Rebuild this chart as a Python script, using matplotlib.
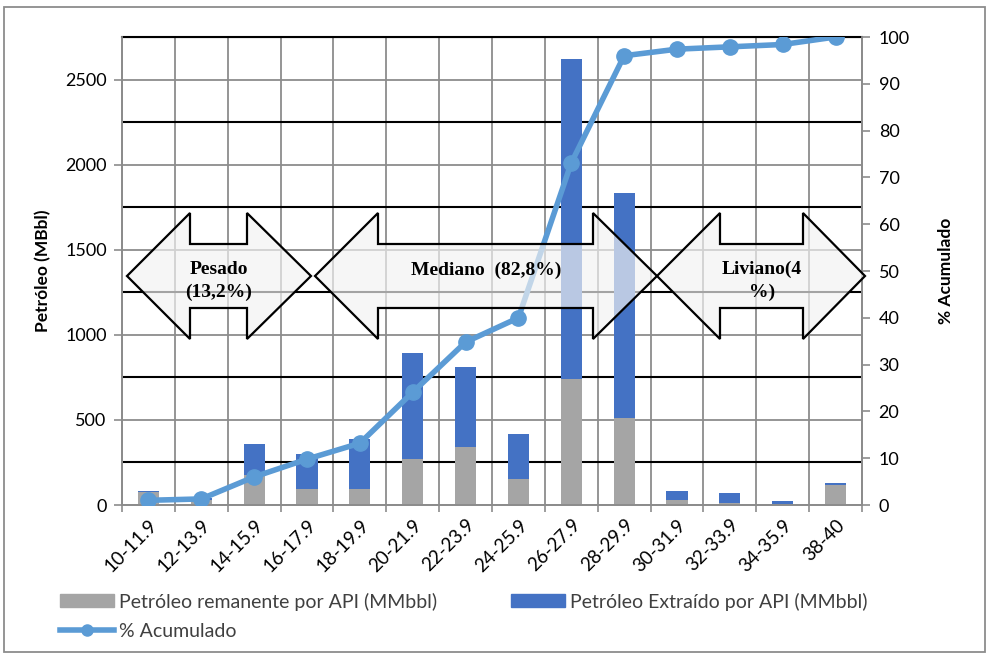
import matplotlib
matplotlib.use("Agg")
import matplotlib.pyplot as plt
import numpy as np
from matplotlib.patches import Polygon, Rectangle
from matplotlib.lines import Line2D

# rangos de gravedad API
rangos = ["10-11.9", "12-13.9", "14-15.9", "16-17.9", "18-19.9", "20-21.9",
          "22-23.9", "24-25.9", "26-27.9", "28-29.9", "30-31.9", "32-33.9",
          "34-35.9", "38-40"]
remanente = [75, 30, 175, 95, 95, 273, 338, 154, 740, 510, 28, 10, 5, 118]
extraido = [8, 10, 185, 205, 290, 622, 474, 261, 1880, 1325, 55, 62, 20, 10]
acumulado = [1.0, 1.3, 6.0, 9.8, 13.2, 24.1, 34.8, 40.0, 73.1, 96.0, 97.4,
             97.9, 98.4, 100.0]

GRIS = "#A5A5A5"
AZUL = "#4472C4"
LINEA = "#5B9BD5"
TXT = "#404040"
tick_font = "Lato"

W, H = 989, 658
fig = plt.figure(figsize=(W / 100, H / 100), dpi=100)


def fx(px):
    return px / W


def fy(py):
    return 1 - py / H


ax = fig.add_axes([fx(122), fy(505), fx(862) - fx(122), fy(37) - fy(505)])
ax2 = ax.twinx()

x = np.arange(len(rangos))
ax.bar(x, remanente, width=0.4, color=GRIS, zorder=2)
ax.bar(x, extraido, width=0.4, bottom=remanente, color=AZUL, zorder=2)

ax.set_xlim(-0.5, len(rangos) - 0.5)
ax.set_ylim(0, 2750)
ax.set_yticks(np.arange(0, 2501, 500))
ax.set_yticks(np.arange(250, 2751, 500), minor=True)
ax.grid(axis="y", which="major", color="#8C8C8C", lw=1.3, zorder=0)
ax.grid(axis="y", which="minor", color="black", lw=1.5, zorder=0)
ax.set_xticks(x)
ax.set_xticks(np.arange(-0.5, len(rangos)), minor=True)
ax.grid(axis="x", which="minor", color="#8C8C8C", lw=1.3, zorder=0)
ax.tick_params(axis="x", which="major", length=0, pad=8)
ax.tick_params(axis="x", which="minor", length=5, color="#8C8C8C", width=1.2)
ax.tick_params(axis="y", which="major", length=6, color="#8C8C8C", width=1.2,
               pad=5)
ax.tick_params(axis="y", which="minor", length=0)
ax.set_xticklabels(rangos, rotation=45, ha="right", rotation_mode="anchor",
                   fontsize=13.5, family=tick_font, color="black")
for lab in ax.get_yticklabels():
    lab.set_fontsize(13)
    lab.set_family(tick_font)
ax.set_ylabel("Petróleo (MBbl)", fontsize=12.5, fontweight="bold",
              family=tick_font, labelpad=10)

for side in ["left", "bottom", "right"]:
    ax.spines[side].set_color("#8C8C8C")
    ax.spines[side].set_linewidth(1.3)
ax.spines["top"].set_color("black")
ax.spines["top"].set_linewidth(1.5)

ax2.plot(x, acumulado, color=LINEA, lw=4, marker="o", ms=11, zorder=3)
ax2.set_ylim(0, 100)
ax2.set_yticks(np.arange(0, 101, 10))
ax2.tick_params(axis="y", length=6, color="#8C8C8C", width=1.2, pad=6)
for lab in ax2.get_yticklabels():
    lab.set_fontsize(13)
    lab.set_family(tick_font)
ax2.set_ylabel("% Acumulado", fontsize=12.5, fontweight="bold",
               family=tick_font, rotation=90, labelpad=20)
for side in ["left", "bottom", "right"]:
    ax2.spines[side].set_color("#8C8C8C")
    ax2.spines[side].set_linewidth(1.3)
ax2.spines["top"].set_visible(False)


# flechas de doble punta (en pixeles de la figura)
def flecha(x0, xb0, xb1, x1, yc, body_h, head_h):
    pts = [(x0, yc), (xb0, yc - head_h), (xb0, yc - body_h),
           (xb1, yc - body_h), (xb1, yc - head_h), (x1, yc),
           (xb1, yc + head_h), (xb1, yc + body_h), (xb0, yc + body_h),
           (xb0, yc + head_h)]
    pts = [(fx(a), fy(b)) for a, b in pts]
    p = Polygon(pts, closed=True, transform=fig.transFigure,
                facecolor="#F2F2F2", alpha=0.68, edgecolor="none",
                zorder=10)
    e = Polygon(pts, closed=True, transform=fig.transFigure,
                facecolor="none", edgecolor="black", lw=1.6, zorder=11)
    fig.patches.extend([p, e])


flecha(127, 190, 247, 311, 276, 32, 63)
flecha(315, 378, 593, 657, 276, 32, 63)
flecha(657, 720, 803, 865, 276, 32, 63)

serif = dict(family="Liberation Serif", fontweight="bold", fontsize=14,
             ha="center", va="center", color="black", zorder=12,
             linespacing=1.45)
fig.text(fx(219), fy(281), "Pesado\n(13,2%)", **serif)
fig.text(fx(486), fy(270), "Mediano  (82,8%)", **serif)
fig.text(fx(762), fy(281), "Liviano(4\n%)", **serif)

# leyenda
h_rem = Rectangle((0, 0), 1, 1, color=GRIS)
h_ext = Rectangle((0, 0), 1, 1, color=AZUL)
h_acu = Line2D([], [], color=LINEA, lw=4, marker="o", ms=8)
leg = fig.legend([h_rem, h_acu, h_ext],
                 ["Petróleo remanente por API (MMbbl)", "% Acumulado",
                  "Petróleo Extraído por API (MMbbl)"],
                 ncol=2, loc="upper left", bbox_to_anchor=(fx(42), fy(575)),
                 frameon=False, handlelength=2.8, handleheight=0.62,
                 handletextpad=0.25, columnspacing=3.8, labelspacing=0.62,
                 prop={"family": tick_font, "size": 14})
for t in leg.get_texts():
    t.set_color(TXT)

# borde del area del grafico
fig.patches.append(Rectangle((fx(4), fy(652)), fx(985) - fx(4),
                             fy(7) - fy(652), transform=fig.transFigure,
                             fill=False, edgecolor="#8C8C8C", lw=1.3))

fig.savefig("out.png", dpi=100)
